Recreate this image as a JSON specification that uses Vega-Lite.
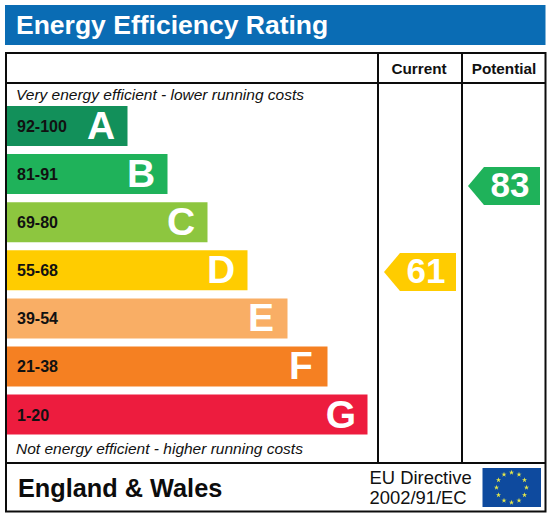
{
  "$schema": "https://vega.github.io/schema/vega-lite/v6.json",
  "width": 550,
  "height": 517,
  "padding": 0,
  "autosize": "none",
  "background": "white",
  "config": {
    "view": {"stroke": null},
    "axis": {"disable": true},
    "text": {"font": "Liberation Sans"}
  },
  "datasets": {
    "one": [{}],
    "bands": [
      {"band": "A", "score": "92-100", "row": 1, "length": 127.5},
      {"band": "B", "score": "81-91", "row": 2, "length": 167.5},
      {"band": "C", "score": "69-80", "row": 3, "length": 207.5},
      {"band": "D", "score": "55-68", "row": 4, "length": 247.5},
      {"band": "E", "score": "39-54", "row": 5, "length": 287.5},
      {"band": "F", "score": "21-38", "row": 6, "length": 327.5},
      {"band": "G", "score": "1-20", "row": 7, "length": 367.5}
    ],
    "ratings": [
      {"rating": "Current", "value": 61, "band": "D"},
      {"rating": "Potential", "value": 83, "band": "B"}
    ],
    "stars": [
      {"hour": 12, "east": 0, "north": 15},
      {"hour": 1, "east": 7.5, "north": 13},
      {"hour": 2, "east": 13, "north": 7.5},
      {"hour": 3, "east": 15, "north": 0},
      {"hour": 4, "east": 13, "north": -7.5},
      {"hour": 5, "east": 7.5, "north": -13},
      {"hour": 6, "east": 0, "north": -15},
      {"hour": 7, "east": -7.5, "north": -13},
      {"hour": 8, "east": -13, "north": -7.5},
      {"hour": 9, "east": -15, "north": 0},
      {"hour": 10, "east": -13, "north": 7.5},
      {"hour": 11, "east": -7.5, "north": 13}
    ]
  },
  "resolve": {"scale": {"x": "independent", "y": "independent"}},
  "layer": [
    {
      "layer": [
        {
          "data": {"name": "one"},
          "mark": {"type": "rect", "color": "#0a6cb4"},
          "encoding": {
            "x": {"datum": 5, "type": "quantitative", "scale": {"domain": [0, 550], "range": [0, 550], "nice": false}},
            "x2": {"datum": 545.5},
            "y": {"datum": 5, "type": "quantitative", "scale": {"domain": [0, 517], "range": [0, 517], "nice": false}},
            "y2": {"datum": 45}
          }
        },
        {
          "data": {"name": "one"},
          "mark": {"type": "rect", "fill": "transparent", "stroke": "#0c0c0c", "strokeWidth": 2},
          "encoding": {
            "x": {"datum": 6, "type": "quantitative"},
            "x2": {"datum": 545.5},
            "y": {"datum": 53, "type": "quantitative"},
            "y2": {"datum": 511.5}
          }
        },
        {
          "data": {"name": "one"},
          "mark": {"type": "rule", "color": "#0c0c0c", "strokeWidth": 2},
          "encoding": {
            "x": {"datum": 6, "type": "quantitative"},
            "x2": {"datum": 545.5},
            "y": {"datum": 83, "type": "quantitative"}
          }
        },
        {
          "data": {"name": "one"},
          "mark": {"type": "rule", "color": "#0c0c0c", "strokeWidth": 2},
          "encoding": {
            "x": {"datum": 6, "type": "quantitative"},
            "x2": {"datum": 545.5},
            "y": {"datum": 463, "type": "quantitative"}
          }
        },
        {
          "data": {"name": "one"},
          "mark": {"type": "rule", "color": "#0c0c0c", "strokeWidth": 2},
          "encoding": {
            "x": {"datum": 378, "type": "quantitative"},
            "y": {"datum": 53, "type": "quantitative"},
            "y2": {"datum": 463}
          }
        },
        {
          "data": {"name": "one"},
          "mark": {"type": "rule", "color": "#0c0c0c", "strokeWidth": 2},
          "encoding": {
            "x": {"datum": 462, "type": "quantitative"},
            "y": {"datum": 53, "type": "quantitative"},
            "y2": {"datum": 463}
          }
        },
        {
          "data": {"values": [{"label": "Energy Efficiency Rating"}]},
          "mark": {"type": "text", "align": "left", "fontWeight": "bold", "fontSize": 26.5, "color": "white"},
          "encoding": {
            "text": {"field": "label"},
            "x": {"datum": 16, "type": "quantitative"},
            "y": {"datum": 26, "type": "quantitative"}
          }
        },
        {
          "data": {"values": [{"label": "Current"}]},
          "mark": {"type": "text", "fontWeight": "bold", "fontSize": 15.3, "color": "#111"},
          "encoding": {
            "text": {"field": "label"},
            "x": {"datum": 419, "type": "quantitative"},
            "y": {"datum": 68.5, "type": "quantitative"}
          }
        },
        {
          "data": {"values": [{"label": "Potential"}]},
          "mark": {"type": "text", "fontWeight": "bold", "fontSize": 15.3, "color": "#111"},
          "encoding": {
            "text": {"field": "label"},
            "x": {"datum": 504, "type": "quantitative"},
            "y": {"datum": 68.5, "type": "quantitative"}
          }
        },
        {
          "data": {"values": [{"label": "Very energy efficient - lower running costs"}]},
          "mark": {"type": "text", "align": "left", "fontStyle": "italic", "fontSize": 15.5, "color": "#111"},
          "encoding": {
            "text": {"field": "label"},
            "x": {"datum": 16, "type": "quantitative"},
            "y": {"datum": 95, "type": "quantitative"}
          }
        },
        {
          "data": {"values": [{"label": "Not energy efficient - higher running costs"}]},
          "mark": {"type": "text", "align": "left", "fontStyle": "italic", "fontSize": 15.5, "color": "#111"},
          "encoding": {
            "text": {"field": "label"},
            "x": {"datum": 16, "type": "quantitative"},
            "y": {"datum": 449, "type": "quantitative"}
          }
        },
        {
          "data": {"values": [{"label": "England & Wales"}]},
          "mark": {"type": "text", "align": "left", "fontWeight": "bold", "fontSize": 25.3, "color": "#0c0c0c"},
          "encoding": {
            "text": {"field": "label"},
            "x": {"datum": 18, "type": "quantitative"},
            "y": {"datum": 488.5, "type": "quantitative"}
          }
        },
        {
          "data": {"values": [{"label": "EU Directive"}]},
          "mark": {"type": "text", "align": "left", "fontSize": 18.4, "color": "#111"},
          "encoding": {
            "text": {"field": "label"},
            "x": {"datum": 369.5, "type": "quantitative"},
            "y": {"datum": 478, "type": "quantitative"}
          }
        },
        {
          "data": {"values": [{"label": "2002/91/EC"}]},
          "mark": {"type": "text", "align": "left", "fontSize": 18.4, "color": "#111"},
          "encoding": {
            "text": {"field": "label"},
            "x": {"datum": 369.5, "type": "quantitative"},
            "y": {"datum": 497.5, "type": "quantitative"}
          }
        },
        {
          "data": {"name": "one"},
          "mark": {"type": "rect", "color": "#0e4a9e"},
          "encoding": {
            "x": {"datum": 482.5, "type": "quantitative"},
            "x2": {"datum": 541},
            "y": {"datum": 468, "type": "quantitative"},
            "y2": {"datum": 507}
          }
        }
      ]
    },
    {
      "data": {"name": "bands"},
      "layer": [
        {
          "mark": {"type": "bar", "orient": "horizontal", "size": 40},
          "encoding": {
            "x": {"field": "length", "type": "quantitative", "scale": {"domain": [0, 550], "range": [0, 550], "nice": false}},
            "x2": {"datum": 7},
            "y": {"field": "row", "type": "quantitative", "scale": {"domain": [-1.62, 9.13], "range": [0, 517], "nice": false, "padding": 0}},
            "color": {
              "field": "band",
              "type": "nominal",
              "legend": null,
              "scale": {
                "domain": ["A", "B", "C", "D", "E", "F", "G"],
                "range": ["#12905a", "#1fb25a", "#8dc63f", "#ffcc00", "#f9ae65", "#f58022", "#ed1c3e"]
              }
            }
          }
        },
        {
          "mark": {"type": "text", "align": "left", "dy": 1, "fontWeight": "bold", "fontSize": 16, "color": "#111"},
          "encoding": {
            "text": {"field": "score"},
            "x": {"datum": 17, "type": "quantitative"},
            "y": {"field": "row", "type": "quantitative"}
          }
        },
        {
          "mark": {"type": "text", "align": "center", "dx": -26.5, "dy": 1, "fontWeight": "bold", "fontSize": 39, "color": "white"},
          "encoding": {
            "text": {"field": "band"},
            "x": {"field": "length", "type": "quantitative"},
            "y": {"field": "row", "type": "quantitative"}
          }
        }
      ]
    },
    {
      "data": {"name": "ratings"},
      "layer": [
        {
          "mark": {
            "type": "point",
            "shape": "M-1,0L-0.556,-0.528L1,-0.528L1,0.528L-0.556,0.528Z",
            "filled": true,
            "opacity": 1,
            "size": 5184
          },
          "encoding": {
            "x": {"field": "rating", "type": "nominal", "scale": {"type": "point", "domain": ["Current", "Potential"], "range": [420, 504], "padding": 0}},
            "y": {"field": "value", "type": "quantitative", "scale": {"domain": [-1.67, 130.6], "range": [517, 0], "nice": false}},
            "color": {
              "field": "band",
              "type": "nominal",
              "legend": null,
              "scale": {
                "domain": ["A", "B", "C", "D", "E", "F", "G"],
                "range": ["#12905a", "#1fb25a", "#8dc63f", "#ffcc00", "#f9ae65", "#f58022", "#ed1c3e"]
              }
            }
          }
        },
        {
          "mark": {"type": "text", "dx": 6, "fontWeight": "bold", "fontSize": 35, "color": "white"},
          "encoding": {
            "text": {"field": "value", "type": "quantitative"},
            "x": {"field": "rating", "type": "nominal"},
            "y": {"field": "value", "type": "quantitative"}
          }
        }
      ]
    },
    {
      "data": {"name": "stars"},
      "mark": {
        "type": "point",
        "shape": "M0,-1L0.22,-0.31L0.95,-0.31L0.36,0.12L0.59,0.81L0,0.38L-0.59,0.81L-0.36,0.12L-0.95,-0.31L-0.22,-0.31Z",
        "filled": true,
        "opacity": 1,
        "size": 30,
        "color": "#e6e84a"
      },
      "encoding": {
        "x": {"field": "east", "type": "quantitative", "scale": {"domain": [-20, 20], "range": [491.5, 531.5], "nice": false}},
        "y": {"field": "north", "type": "quantitative", "scale": {"domain": [-20, 20], "range": [507.5, 467.5], "nice": false}}
      }
    }
  ]
}
